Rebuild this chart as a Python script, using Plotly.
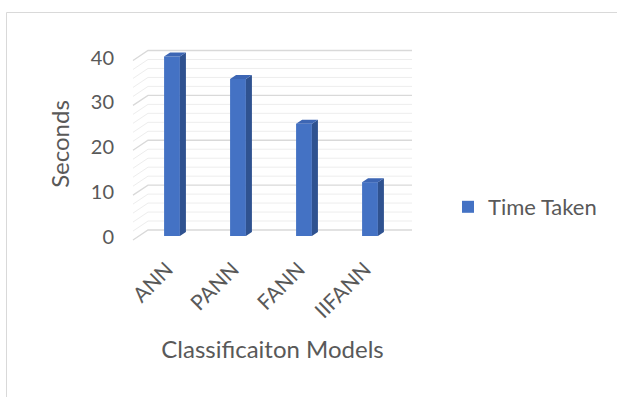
import plotly.graph_objects as go

# ---- data -------------------------------------------------------------
models = ["ANN", "PANN", "FANN", "IIFANN"]
time_taken = [40, 35, 25, 12]
y_tick_vals = [0, 10, 20, 30, 40]
series_name = "Time Taken"

# ---- geometry of the pseudo-3D column chart ---------------------------
FIG_W, FIG_H = 617, 397
CAT_PX = 66.0        # pixels between category centres
CAT0_PX = 172.0      # pixel x of the first category
ZERO_PX = 236.0      # pixel y of value 0 on the bar front plane
UNIT_PX = 4.4875     # pixels per second
M_L, M_R, M_T, M_B = 129, 201, 45, 154

plot_w = FIG_W - M_L - M_R
plot_h = FIG_H - M_T - M_B
x_range = [(M_L - CAT0_PX) / CAT_PX, (FIG_W - M_R - CAT0_PX) / CAT_PX]
y_range = [(ZERO_PX - (FIG_H - M_B)) / UNIT_PX, (ZERO_PX - M_T) / UNIT_PX]

# floor depth vector in data units, bars occupy the first 40% of it
DEPTH_X = 15.0 / CAT_PX
DEPTH_Y = 10.0 / UNIT_PX
FRONT_FRAC = 0.4
BAR_W = 0.24
bar_dx = FRONT_FRAC * DEPTH_X
bar_dy = FRONT_FRAC * DEPTH_Y

FRONT_COL = "#4472C4"
SIDE_COL = "#2F5290"
TOP_COL = "#3D66B4"
TEXT_COL = "#595959"
FONT = "Lato"

idx = list(range(len(models)))
y_max = max(y_tick_vals)
minor_step = 2


def px_to_paper_x(px):
    return (px - M_L) / plot_w


def px_to_paper_y(py):
    return (FIG_H - M_B - py) / plot_h


fig = go.Figure()

# ---- walls: gridlines along the left wall and the back wall (base axes) --
left_front = -0.5 - FRONT_FRAC * DEPTH_X
left_back = -0.5 + (1 - FRONT_FRAC) * DEPTH_X
right_back = len(models) - 0.5 + (1 - FRONT_FRAC) * DEPTH_X

for major in (False, True):
    gx, gy = [], []
    for v in range(0, y_max + 1, minor_step):
        if (v % 10 == 0) != major:
            continue
        gx += [left_front, left_back, right_back, None]
        gy += [v - FRONT_FRAC * DEPTH_Y, v + (1 - FRONT_FRAC) * DEPTH_Y,
               v + (1 - FRONT_FRAC) * DEPTH_Y, None]
    fig.add_trace(go.Scatter(
        x=gx, y=gy, mode="lines", hoverinfo="skip", showlegend=False,
        line=dict(color="#D9D9D9" if major else "#EDEDED", width=1.3 if major else 1),
    ))

# ---- bars on an overlaid subplot so they sit in front of the walls -------
sx, sy, tx, ty = [], [], [], []
for i, v in zip(idx, time_taken):
    r = i + BAR_W / 2
    l = i - BAR_W / 2
    sx += [r, r + bar_dx, r + bar_dx, r, r, None]
    sy += [0, bar_dy, v + bar_dy, v, 0, None]
    tx += [l, r, r + bar_dx, l + bar_dx, l, None]
    ty += [v, v, v + bar_dy, v + bar_dy, v, None]

fig.add_trace(go.Bar(
    x=idx, y=time_taken, width=BAR_W, name=series_name,
    marker=dict(color=FRONT_COL, line=dict(width=0)),
    xaxis="x2", yaxis="y2",
))
fig.add_trace(go.Scatter(
    x=sx, y=sy, mode="lines", fill="toself", fillcolor=SIDE_COL,
    line=dict(width=0, color=SIDE_COL), hoverinfo="skip", showlegend=False,
    xaxis="x2", yaxis="y2",
))
fig.add_trace(go.Scatter(
    x=tx, y=ty, mode="lines", fill="toself", fillcolor=TOP_COL,
    line=dict(width=0, color=TOP_COL), hoverinfo="skip", showlegend=False,
    xaxis="x2", yaxis="y2",
))

# ---- chart border ---------------------------------------------------------
fig.add_shape(
    type="rect", xref="paper", yref="paper",
    x0=px_to_paper_x(6.5), x1=px_to_paper_x(FIG_W + 20),
    y0=px_to_paper_y(FIG_H + 20), y1=px_to_paper_y(12.5),
    line=dict(color="#D9D9D9", width=1), fillcolor="rgba(0,0,0,0)", layer="below",
)

hidden = dict(showgrid=False, zeroline=False, showline=False, showticklabels=False,
              ticks="", fixedrange=True)

fig.update_layout(
    width=FIG_W, height=FIG_H,
    margin=dict(l=M_L, r=M_R, t=M_T, b=M_B, autoexpand=False),
    paper_bgcolor="white", plot_bgcolor="white",
    font=dict(family=FONT, color=TEXT_COL, size=20),
    showlegend=True,
    legend=dict(
        x=px_to_paper_x(448), y=px_to_paper_y(207), xanchor="left", yanchor="middle",
        font=dict(size=22, color=TEXT_COL), bgcolor="rgba(0,0,0,0)",
    ),
    xaxis=dict(
        range=x_range, tickmode="array", tickvals=idx, ticktext=models,
        tickangle=-45, showgrid=False, zeroline=False, showline=False,
        ticks="", ticklabelstandoff=9, ticklabelshift=-5,
        tickfont=dict(size=21, color=TEXT_COL),
        title=dict(text="Classificaiton Models", standoff=19,
                   font=dict(size=24, color=TEXT_COL)),
        fixedrange=True,
    ),
    yaxis=dict(
        range=y_range, tickmode="array", tickvals=y_tick_vals,
        showgrid=False, zeroline=False, showline=False, ticks="",
        ticklabelshift=1, ticklabelstandoff=14,
        tickfont=dict(size=20, color=TEXT_COL),
        title=dict(text="Seconds", standoff=14, font=dict(size=24, color=TEXT_COL)),
        fixedrange=True,
    ),
    xaxis2=dict(range=x_range, overlaying="x", anchor="y2", **hidden),
    yaxis2=dict(range=y_range, overlaying="y", anchor="x2", **hidden),
)

fig.write_html("out.html")
